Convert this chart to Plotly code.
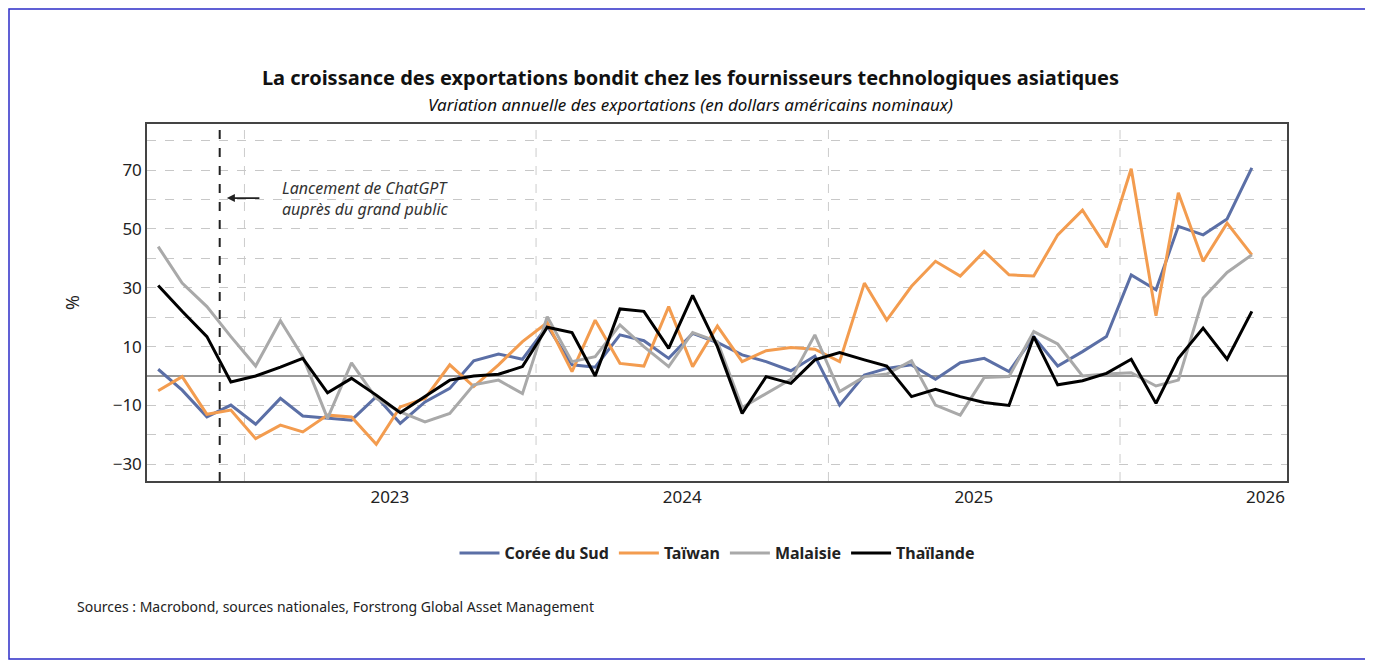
import plotly.graph_objects as go
import pandas as pd

dates = [d.strftime("%Y-%m-%d") for d in pd.date_range("2022-09-01", periods=46, freq="MS") + pd.Timedelta(days=14)]

coree = [2.3, -4.8, -13.9, -9.9, -16.4, -7.6, -13.6, -14.2, -15, -7, -16.1, -8.8, -4.2, 5.2, 7.5, 5.7,
         17, 3.8, 3, 14, 12, 6, 14.5, 11.4, 7.2, 4.9, 1.8, 6.8, -9.9, 0.3, 2.6, 3.8, -1.1, 4.5, 6, 1.5,
         13.4, 3.4, 8.3, 13.4, 34.4, 29.3, 50.9, 48, 53.4, 70.8]
taiwan = [-5, -0.2, -13, -11.6, -21.3, -16.7, -19, -13.3, -13.9, -23.2, -10.5, -7.6, 3.8, -3.6, 3.8, 11.7,
          18.2, 1.5, 19, 4.3, 3.4, 23.6, 3.2, 17, 4.9, 8.6, 9.7, 9.1, 4.9, 31.6, 19, 30.5, 39, 34, 42.4, 34.4,
          34, 48, 56.4, 43.8, 70.5, 20.5, 62.3, 39, 52, 41.2]
malaisie = [44, 31.6, 23.6, 13.4, 3.4, 18.8, 6.6, -14.4, 4.5, -7.6, -12.2, -15.6, -12.7, -3, -1.4, -6,
            20.2, 4.9, 6.6, 17.4, 10, 3.2, 14.8, 11.7, -10.7, -6, -1.1, 14, -5.3, -0.2, 0.7, 5.2, -9.9, -13.3,
            -0.5, -0.2, 15.1, 10.9, 0, 0.7, 1.1, -3.4, -1.4, 26.5, 35.2, 41.2]
thailande = [30.8, 22, 13.4, -2, 0, 3, 6, -5.7, -0.8, -6.5, -12.5, -7, -1.4, 0, 0.6, 3.2,
             16.6, 14.8, 0, 22.8, 22, 9.4, 27.4, 10, -12.7, -0.2, -2.5, 5.5, 8, 5.5, 3.4, -7, -4.5, -7,
             -9, -10, 13.4, -3, -1.6, 0.9, 5.7, -9.3, 6, 16.3, 5.7, 22]

year_labels = ["2023", "2024", "2025", "2026"]
label_pos = ["2023-07-02", "2024-07-02", "2025-07-02", "2026-07-02"]
year_starts = ["2023-01-01", "2024-01-01", "2025-01-01", "2026-01-01"]

series = [("Corée du Sud", coree, "#5b6fa6"), ("Taïwan", taiwan, "#f39c4f"),
          ("Malaisie", malaisie, "#a9a9a9"), ("Thaïlande", thailande, "#000000")]

W, H = 1365, 657
L, R, T, B = 139, 86, 116, 184
PW, PH = W - L - R, H - T - B

fig = go.Figure()
for name, vals, col in series:
    fig.add_trace(go.Scatter(x=dates, y=vals, name=name, mode="lines",
                             line=dict(color=col, width=3)))

for ys in year_starts:
    fig.add_shape(type="line", xref="x", yref="paper", x0=ys, x1=ys, y0=0, y1=1,
                  line=dict(color="#cccccc", width=1, dash="dash"), layer="below")
fig.add_shape(type="line", xref="x", yref="paper", x0="2022-12-01", x1="2022-12-01", y0=0, y1=1,
              line=dict(color="#222", width=2, dash="dash"))

fig.add_annotation(x="2022-12-10", y=60.5, xref="x", yref="y", ax=34, ay=0,
                   text="", showarrow=True, arrowhead=2, arrowsize=1, arrowwidth=1.6, arrowcolor="#222")
fig.add_annotation(x="2023-02-15", y=60.5, xref="x", yref="y", xanchor="left", yanchor="middle", showarrow=False,
                   align="left", text="<i>Lancement de ChatGPT<br>auprès du grand public</i>",
                   font=dict(size=16, color="#333"))
fig.add_annotation(x=(67 - L) / PW, y=(T + PH - 598) / PH, xref="paper", yref="paper",
                   xanchor="left", yanchor="middle", showarrow=False,
                   text="Sources : Macrobond, sources nationales, Forstrong Global Asset Management",
                   font=dict(size=14, color="#222"))
fig.add_shape(type="rect", xref="paper", yref="paper", x0=(1 - L) / PW, x1=(1359 - L) / PW,
              y0=(T + PH - 651) / PH, y1=(T + PH - 1) / PH, line=dict(color="#2c2cc8", width=1.5))

fig.update_layout(
    width=W, height=H, paper_bgcolor="white", plot_bgcolor="white",
    margin=dict(l=L, r=R, t=T, b=B),
    font=dict(family="Noto Sans", color="#222"),
    title=dict(text="<b>La croissance des exportations bondit chez les fournisseurs technologiques asiatiques</b>"
                    "<br><span style='font-size:17px'><i>Variation annuelle des exportations (en dollars américains nominaux)</i></span>",
               x=0.5, xanchor="center", y=0.883, yanchor="middle", font=dict(size=20, color="#111")),
    showlegend=True,
    legend=dict(orientation="h", x=0.5, xanchor="center", y=(T + PH - 545) / PH, yanchor="middle",
                font=dict(size=16, color="#222", weight="bold"), itemwidth=40, tracegroupgap=0),
    xaxis=dict(type="date", range=["2022-09-01", "2026-07-29"], tickvals=label_pos, ticktext=year_labels,
               showgrid=False, ticks="", showline=True, linecolor="#444", linewidth=1.5, mirror=True,
               tickfont=dict(size=17), zeroline=False),
    yaxis=dict(range=[-35.7, 85.7], tickvals=[-30, -10, 10, 30, 50, 70], showgrid=True,
               gridcolor="#c8c8c8", griddash="dash", gridwidth=1,
               minor=dict(dtick=10, tick0=0, showgrid=True, gridcolor="#c8c8c8", griddash="dash"),
               zeroline=True, zerolinecolor="#999", zerolinewidth=1.5,
               showline=True, linecolor="#444", linewidth=1.5, mirror=True, ticks="",
               tickfont=dict(size=17), title=dict(text="%", font=dict(size=18), standoff=28)),
)

fig.write_html("out.html")
